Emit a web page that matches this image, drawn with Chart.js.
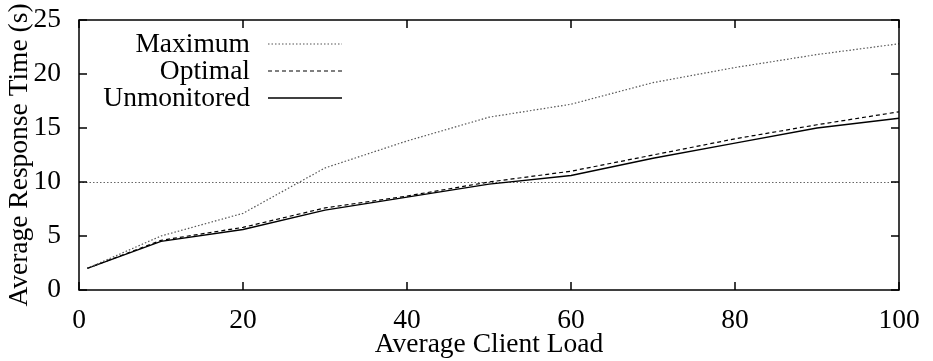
<!DOCTYPE html>
<html>
<head>
<meta charset="utf-8">
<script src="https://cdn.jsdelivr.net/npm/chart.js@4/dist/chart.umd.min.js"></script>
<style>
  html, body { margin: 0; padding: 0; background: #fff; }
  #wrap { width: 933px; height: 361px; }
</style>
</head>
<body>
<div id="wrap"><canvas id="responseChart"></canvas></div>
<script>
// average client load (x) and response times (s)
const clientLoad = [1, 10, 20, 30, 40, 50, 60, 70, 80, 90, 100];
const maximumTimes = [2.0, 5.0, 7.1, 11.3, 13.8, 16.0, 17.2, 19.2, 20.6, 21.8, 22.8];
const optimalTimes = [2.0, 4.6, 5.8, 7.6, 8.7, 10.0, 11.0, 12.5, 14.0, 15.3, 16.5];
const unmonitoredTimes = [2.0, 4.5, 5.6, 7.4, 8.6, 9.8, 10.6, 12.2, 13.6, 15.0, 15.9];
const seriesNames = ["Maximum", "Optimal", "Unmonitored"];
const xTicks = [0, 20, 40, 60, 80, 100];
const yTicks = [0, 5, 10, 15, 20, 25];
const thresholdLine = 10;

const serif = "'Liberation Serif', 'DejaVu Serif', serif";
const fontSize = 27.5;

function toPoints(ys) {
    return clientLoad.map((x, i) => ({ x: x, y: ys[i] }));
}

// gnuplot style frame with inward ticks and a right-aligned key
const framePlugin = {
    id: "frame",
    afterDraw(chart) {
        const { ctx, chartArea: a, scales } = chart;
        ctx.save();
        ctx.strokeStyle = "#000";
        ctx.lineWidth = 1.5;
        ctx.setLineDash([]);
        ctx.strokeRect(a.left, a.top, a.right - a.left, a.bottom - a.top);
        const len = 8;
        ctx.beginPath();
        xTicks.forEach(v => {
            const px = scales.x.getPixelForValue(v);
            ctx.moveTo(px, a.bottom); ctx.lineTo(px, a.bottom - len);
            ctx.moveTo(px, a.top); ctx.lineTo(px, a.top + len);
        });
        yTicks.forEach(v => {
            const py = scales.y.getPixelForValue(v);
            ctx.moveTo(a.left, py); ctx.lineTo(a.left + len, py);
            ctx.moveTo(a.right, py); ctx.lineTo(a.right - len, py);
        });
        ctx.stroke();

        // key
        ctx.font = fontSize + "px " + serif;
        ctx.textAlign = "right";
        ctx.textBaseline = "middle";
        const rows = [44, 71, 98];
        chart.data.datasets.forEach((ds, i) => {
            const y = rows[i];
            ctx.fillStyle = "#000";
            ctx.fillText(ds.label, a.left + 171, y + 1);
            ctx.strokeStyle = ds.borderColor;
            ctx.lineWidth = ds.borderWidth;
            ctx.setLineDash(ds.borderDash || []);
            ctx.beginPath();
            ctx.moveTo(a.left + 189, y);
            ctx.lineTo(a.left + 263, y);
            ctx.stroke();
        });
        ctx.restore();
    }
};

new Chart(document.getElementById("responseChart"), {
    type: "line",
    data: {
        datasets: [{
            label: seriesNames[0],
            data: toPoints(maximumTimes),
            borderColor: "#555",
            borderWidth: 1.2,
            borderDash: [1.5, 2],
            pointRadius: 0,
            tension: 0
        }, {
            label: seriesNames[1],
            data: toPoints(optimalTimes),
            borderColor: "#000",
            borderWidth: 1.2,
            borderDash: [4, 3],
            pointRadius: 0,
            tension: 0
        }, {
            label: seriesNames[2],
            data: toPoints(unmonitoredTimes),
            borderColor: "#000",
            borderWidth: 1.4,
            pointRadius: 0,
            tension: 0
        }]
    },
    options: {
        responsive: true,
        maintainAspectRatio: false,
        animation: false,
        layout: { padding: { left: 0, right: 34, top: 20, bottom: 0 } },
        plugins: {
            legend: { display: false },
            tooltip: { enabled: false }
        },
        scales: {
            x: {
                type: "linear",
                min: 0,
                max: 100,
                afterFit: s => {
                    s.height = 71;
                    s.paddingLeft = 0;
                    s.paddingRight = 0;
                },
                afterBuildTicks: s => { s.ticks = xTicks.map(v => ({ value: v })); },
                grid: { display: false, drawTicks: false },
                border: { display: false },
                ticks: {
                    color: "#000",
                    padding: 14,
                    maxRotation: 0,
                    font: { family: serif, size: fontSize }
                },
                title: {
                    display: true,
                    text: "Average Client Load",
                    color: "#000",
                    padding: { top: 0, bottom: 0 },
                    font: { family: serif, size: fontSize }
                }
            },
            y: {
                min: 0,
                max: 25,
                afterFit: s => {
                    s.width = 79;
                    s.paddingTop = 0;
                    s.paddingBottom = 0;
                },
                afterBuildTicks: s => { s.ticks = yTicks.map(v => ({ value: v })); },
                grid: {
                    drawTicks: false,
                    lineWidth: 1,
                    color: c => c.tick && c.tick.value === thresholdLine ? "#666" : "rgba(0,0,0,0)"
                },
                border: { display: false, dash: [1.5, 2] },
                ticks: {
                    color: "#000",
                    padding: 18,
                    font: { family: serif, size: fontSize }
                },
                title: {
                    display: true,
                    text: "Average Response Time (s)",
                    color: "#000",
                    padding: { top: 3.5, bottom: 0 },
                    font: { family: serif, size: fontSize }
                }
            }
        }
    },
    plugins: [framePlugin]
});
</script>
</body>
</html>
